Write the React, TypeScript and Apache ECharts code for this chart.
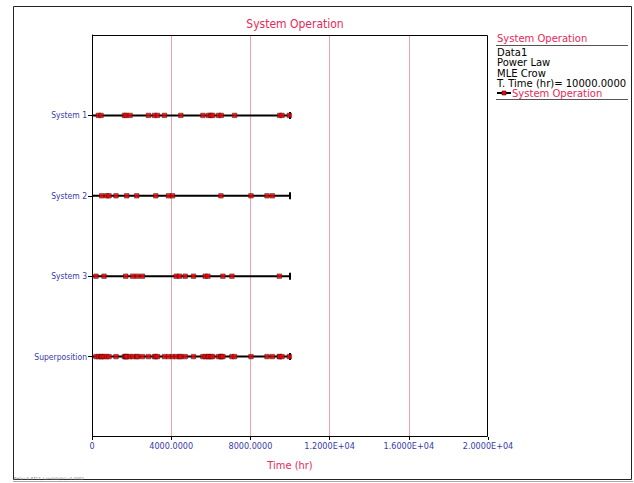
import React, { useEffect, useRef } from "react";
import * as echarts from "echarts";

const categories = ["", "System 1", "System 2", "System 3", "Superposition", ""];
const system1 = [320, 455, 1636, 1720, 1923, 2850, 3154, 3306, 3660, 4487, 5600, 5886, 6005, 6089, 6392, 6527, 7202, 9479, 9597, 9968];
const system2 = [489, 742, 860, 1214, 1754, 2260, 3222, 3862, 4065, 6511, 8029, 8838, 9108];
const system3 = [202, 607, 1704, 2058, 2294, 2547, 4250, 4419, 4706, 5127, 5718, 5853, 6612, 7067, 9462];
const superposition = [...system1, ...system2, ...system3].sort((a, b) => a - b);
const totalTime = 10000;
const xTicks = [0, 4000, 8000, 12000, 16000, 20000];
const xTickLabels = ["0", "4000.0000", "8000.0000", "1.2000E+04", "1.6000E+04", "2.0000E+04"];
const legendLines = ["Data1", "Power Law", "MLE Crow", "T. Time (hr)= 10000.0000"];

const rows: [string, number[]][] = [
  ["System 1", system1],
  ["System 2", system2],
  ["System 3", system3],
  ["Superposition", superposition],
];

const FONT = "DejaVu Sans";
const FONT_C = "DejaVu Sans Condensed";
const RED = "#e8285a";
const BLUE = "#3a3aa8";

export default function App() {
  const ref = useRef<HTMLDivElement>(null);
  useEffect(() => {
    document.body.style.margin = "0";
    const chart = echarts.init(ref.current!, null, { renderer: "svg" });
    const series: any[] = [];
    rows.forEach(([name, vals]) => {
      series.push({
        type: "line",
        name: "System Operation",
        data: [
          { value: [0, name], symbol: "none" },
          { value: [totalTime, name], symbol: "rect", symbolSize: [2, 7] },
        ],
        lineStyle: { color: "#000", width: 2 },
        itemStyle: { color: "#000" },
        z: 2,
        silent: true,
      });
      series.push({
        type: "scatter",
        name: "System Operation",
        data: vals.map((v) => [v, name]),
        symbol: "rect",
        symbolSize: 4.5,
        itemStyle: { color: "#ff0000", borderColor: "#331111", borderWidth: 0.6 },
        z: 3,
        silent: true,
      });
    });
    chart.setOption({
      animation: false,
      textStyle: { fontFamily: FONT_C },
      title: {
        text: "System Operation",
        left: 290,
        textAlign: "center",
        top: 13,
        textStyle: { color: RED, fontSize: 12, fontWeight: "normal", fontFamily: FONT_C },
      },
      grid: { left: 92, top: 35, width: 396, height: 402, show: false },
      xAxis: {
        type: "value",
        min: xTicks[0],
        max: xTicks[xTicks.length - 1],
        interval: 4000,
        name: "Time (hr)",
        nameLocation: "middle",
        nameGap: 23,
        nameTextStyle: { color: RED, fontSize: 11, fontFamily: FONT_C },
        axisLine: { lineStyle: { color: "#000" } },
        axisTick: { show: true, length: 3, lineStyle: { color: "#000" } },
        axisLabel: {
          color: BLUE,
          fontSize: 9,
          margin: 4,
          fontFamily: FONT_C,
          formatter: (v: number) => {
            const i = xTicks.indexOf(v);
            return i >= 0 ? xTickLabels[i] : "";
          },
        },
        splitLine: { show: true, showMinLine: false, showMaxLine: false, lineStyle: { color: "#f2a0ab", width: 1 } },
      },
      yAxis: {
        type: "category",
        data: categories,
        inverse: true,
        boundaryGap: false,
        axisLine: { lineStyle: { color: "#000" } },
        axisTick: { show: true, length: 4, lineStyle: { color: "#000" }, interval: (_i: number, v: string) => v !== "" },
        axisLabel: { color: BLUE, fontSize: 8.5, margin: 5, fontFamily: FONT_C },
        splitLine: { show: false },
      },
      series,
      graphic: [
        { type: "rect", shape: { x: 13.5, y: 6.5, width: 618, height: 473 }, style: { fill: "none", stroke: "#222", lineWidth: 1 }, silent: true },
        { type: "line", shape: { x1: 13, y1: 481.5, x2: 633, y2: 481.5 }, style: { stroke: "#aaa", lineWidth: 1 } },
        { type: "rect", z: 100, shape: { x: 92.5, y: 35.5, width: 395, height: 401 }, style: { fill: "none", stroke: "#000", lineWidth: 1 }, silent: true },
        { type: "text", left: 497, top: 33, style: { text: "System Operation", fill: RED, fontSize: 10, lineHeight: 10, fontFamily: FONT } },
        { type: "line", shape: { x1: 496, y1: 45.5, x2: 628, y2: 45.5 }, style: { stroke: "#555", lineWidth: 1 } },
        ...legendLines.map((t, i) => ({
          type: "text",
          left: 497,
          top: 47 + i * 10.5,
          style: { text: t, fill: "#000", fontSize: 10, lineHeight: 10, fontFamily: FONT },
        })),
        { type: "line", shape: { x1: 497, y1: 93, x2: 511, y2: 93 }, style: { stroke: "#000", lineWidth: 2 } },
        { type: "rect", shape: { x: 502, y: 91, width: 4, height: 4 }, style: { fill: "#ff0000", stroke: "#331111", lineWidth: 0.6 } },
        { type: "text", left: 512, top: 88.5, style: { text: "System Operation", fill: RED, fontSize: 10, lineHeight: 10, fontFamily: FONT } },
        { type: "line", shape: { x1: 496, y1: 99.5, x2: 628, y2: 99.5 }, style: { stroke: "#555", lineWidth: 1 } },
        { type: "text", left: 14, top: 476, style: { text: "Beta=0.8713, Lambda(hr)=0.0002", fill: "#777", fontSize: 4, fontFamily: FONT } },
      ],
    });
    return () => chart.dispose();
  }, []);
  return <div ref={ref} style={{ position: "absolute", left: 0, top: 0, width: 634, height: 483, background: "#fff" }} />;
}
